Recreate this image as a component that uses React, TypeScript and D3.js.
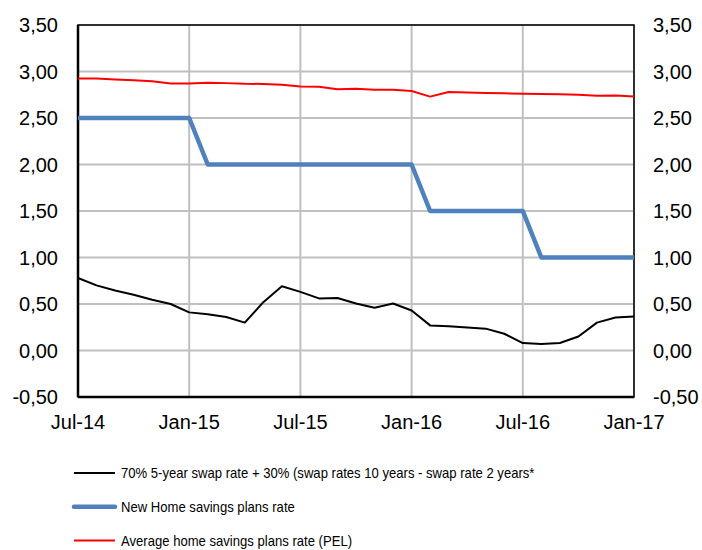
import React, { useRef, useEffect } from "react";
import * as d3 from "d3";

// Monthly observations, Jul-14 .. Jan-17
const months = [
  "Jul-14", "Aug-14", "Sep-14", "Oct-14", "Nov-14", "Dec-14",
  "Jan-15", "Feb-15", "Mar-15", "Apr-15", "May-15", "Jun-15",
  "Jul-15", "Aug-15", "Sep-15", "Oct-15", "Nov-15", "Dec-15",
  "Jan-16", "Feb-16", "Mar-16", "Apr-16", "May-16", "Jun-16",
  "Jul-16", "Aug-16", "Sep-16", "Oct-16", "Nov-16", "Dec-16",
  "Jan-17",
];

const swapRate = [
  0.78, 0.70, 0.645, 0.60, 0.545, 0.50,
  0.41, 0.39, 0.36, 0.30, 0.52, 0.69,
  0.63, 0.56, 0.565, 0.505, 0.46, 0.505,
  0.43, 0.27, 0.26, 0.248, 0.235, 0.18,
  0.08, 0.07, 0.08, 0.15, 0.30, 0.355,
  0.365,
];

const newPelRate = [
  2.5, 2.5, 2.5, 2.5, 2.5, 2.5,
  2.5, 2.0, 2.0, 2.0, 2.0, 2.0,
  2.0, 2.0, 2.0, 2.0, 2.0, 2.0,
  2.0, 1.5, 1.5, 1.5, 1.5, 1.5,
  1.5, 1.0, 1.0, 1.0, 1.0, 1.0,
  1.0,
];

const avgPelRate = [
  2.925, 2.925, 2.915, 2.905, 2.895, 2.87,
  2.87, 2.88, 2.875, 2.868, 2.866, 2.857,
  2.84, 2.835, 2.81, 2.815, 2.805, 2.803,
  2.79, 2.73, 2.78, 2.775, 2.77, 2.765,
  2.762, 2.758, 2.755, 2.75, 2.74, 2.742,
  2.73,
];

const xTickLabels = ["Jul-14", "Jan-15", "Jul-15", "Jan-16", "Jul-16", "Jan-17"];
const yTicks = [-0.5, 0, 0.5, 1, 1.5, 2, 2.5, 3, 3.5];

const legendItems = [
  { label: "70% 5-year swap rate + 30% (swap rates 10 years - swap rate 2 years*", color: "#000000", width: 2 },
  { label: "New Home savings plans rate", color: "#4f81bd", width: 4.5 },
  { label: "Average home savings plans rate (PEL)", color: "#ff0000", width: 2 },
];

export default function App() {
  const svgRef = useRef<SVGSVGElement>(null);

  useEffect(() => {
    const svg = d3.select(svgRef.current);
    svg.selectAll("*").remove();

    const width = 702;
    const height = 550;
    const margin = { top: 25, right: 68, bottom: 153, left: 78 };
    const innerW = width - margin.left - margin.right;
    const innerH = height - margin.top - margin.bottom;
    const font = "Arial, 'Liberation Sans', sans-serif";

    svg.attr("width", width).attr("height", height);

    const g = svg.append("g")
      .attr("transform", `translate(${margin.left},${margin.top})`);

    const x = d3.scaleLinear().domain([0, months.length - 1]).range([0, innerW]);
    const y = d3.scaleLinear().domain([-0.5, 3.5]).range([innerH, 0]);
    const fmt = (v: number) => d3.format(".2f")(v).replace(".", ",").replace("−", "-");

    // gridlines
    g.append("g")
      .selectAll("line")
      .data(yTicks)
      .join("line")
      .attr("x1", 0)
      .attr("x2", innerW)
      .attr("y1", (d) => y(d))
      .attr("y2", (d) => y(d))
      .attr("stroke", "#c0c0c0")
      .attr("stroke-width", 2);

    g.append("g")
      .selectAll("line")
      .data(xTickLabels)
      .join("line")
      .attr("x1", (d) => x(months.indexOf(d)))
      .attr("x2", (d) => x(months.indexOf(d)))
      .attr("y1", 0)
      .attr("y2", innerH)
      .attr("stroke", "#c0c0c0")
      .attr("stroke-width", 2);

    // plot frame
    g.append("rect")
      .attr("width", innerW)
      .attr("height", innerH)
      .attr("fill", "none")
      .attr("stroke", "#000")
      .attr("stroke-width", 1.5);
    g.append("line").attr("x1", 0).attr("x2", 0).attr("y1", 0).attr("y2", innerH)
      .attr("stroke", "#000").attr("stroke-width", 2.5);
    g.append("line").attr("x1", 0).attr("x2", innerW).attr("y1", innerH).attr("y2", innerH)
      .attr("stroke", "#000").attr("stroke-width", 2.5);

    // axis labels
    g.append("g")
      .selectAll("text")
      .data(yTicks)
      .join("text")
      .attr("x", -20)
      .attr("y", (d) => y(d) + 7)
      .attr("text-anchor", "end")
      .attr("font-family", font)
      .attr("font-size", 20)
      .attr("fill", "#000")
      .text(fmt);

    g.append("g")
      .selectAll("text")
      .data(yTicks)
      .join("text")
      .attr("x", innerW + 19)
      .attr("y", (d) => y(d) + 7)
      .attr("text-anchor", "start")
      .attr("font-family", font)
      .attr("font-size", 20)
      .attr("fill", "#000")
      .text(fmt);

    g.append("g")
      .selectAll("text")
      .data(xTickLabels)
      .join("text")
      .attr("x", (d) => x(months.indexOf(d)))
      .attr("y", innerH + 32)
      .attr("text-anchor", "middle")
      .attr("font-family", font)
      .attr("font-size", 20)
      .attr("fill", "#000")
      .text((d) => d);

    // series
    const line = d3.line<number>()
      .x((_, i) => x(i))
      .y((d) => y(d));

    const series = [
      { values: avgPelRate, color: "#ff0000", width: 2 },
      { values: newPelRate, color: "#4f81bd", width: 4.5 },
      { values: swapRate, color: "#000000", width: 2 },
    ];

    series.forEach((s) => {
      g.append("path")
        .datum(s.values)
        .attr("fill", "none")
        .attr("stroke", s.color)
        .attr("stroke-width", s.width)
        .attr("stroke-linejoin", "round")
        .attr("d", line);
    });

    // legend (text slightly condensed, like the source)
    const legend = svg.append("g").attr("transform", "translate(74,473)");
    legendItems.forEach((item, i) => {
      const row = legend.append("g").attr("transform", `translate(0,${i * 33.8})`);
      row.append("line")
        .attr("x1", 0)
        .attr("x2", 41)
        .attr("stroke", item.color)
        .attr("stroke-width", item.width)
        .attr("stroke-linecap", item.width > 3 ? "round" : "butt");
      row.append("text")
        .attr("transform", "translate(47,5) scale(0.935,1)")
        .attr("font-family", font)
        .attr("font-size", 14)
        .attr("fill", "#000")
        .text(item.label);
    });
  }, []);

  return (
    <div style={{ position: "absolute", left: 0, top: 0 }}>
      <svg ref={svgRef} style={{ display: "block" }} />
    </div>
  );
}
